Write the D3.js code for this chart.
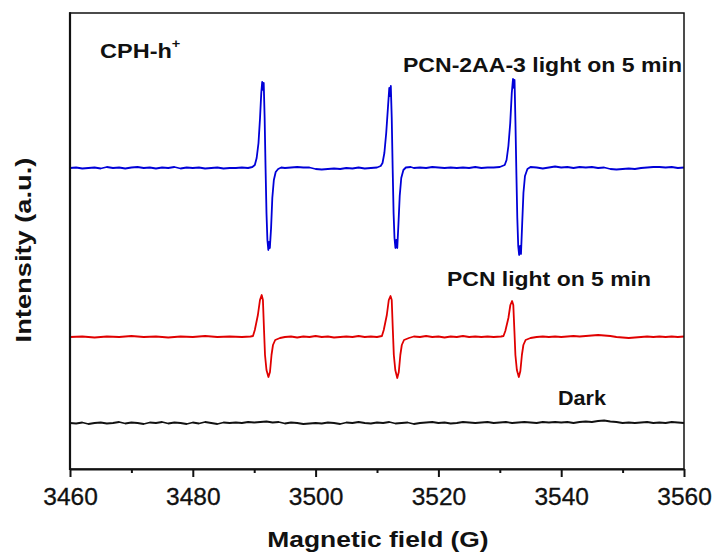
<!DOCTYPE html>
<html>
<head>
<meta charset="utf-8">
<script src="https://cdn.jsdelivr.net/npm/d3@7"></script>
<style>
  body { margin: 0; background: #fff; }
  svg { display: block; font-family: "Liberation Sans", Arial, sans-serif; }
</style>
</head>
<body>
<svg id="chart" width="712" height="554"></svg>
<script>
// x ticks
const majorTicks = [3460, 3480, 3500, 3520, 3540, 3560];
const minorTicks = [3470, 3490, 3510, 3530, 3550];

// vertical offset of each trace (a.u.)
const traceNames = ["Dark", "PCN light on 5 min", "PCN-2AA-3 light on 5 min"];
const traceOffsets = [46, 132, 301];
const traceColors = ["#111111", "#e00000", "#0000d8"];

// [field (G), intensity relative to baseline (a.u.)]
const darkData = [
  [3460,0],[3461,-0.5],[3462,0.5],[3463,-1],[3464,0],[3465,0.5],[3466,-0.5],[3467,0],[3468,1],[3469,-0.5],
  [3470,0.5],[3471,0],[3472,-1],[3473,0.5],[3474,0],[3475,1],[3476,-0.5],[3477,0.5],[3478,0],[3479,-1],
  [3480,0.5],[3481,-0.5],[3482,1],[3483,0],[3484,-1],[3485,0.5],[3486,0],[3487,0.5],[3488,0],[3489,1],
  [3490,0.5],[3491,1],[3492,1.5],[3493,0.5],[3494,1],[3495,-0.5],[3496,0.5],[3497,0],[3498,-1],[3499,-0.5],
  [3500,0],[3501,-0.5],[3502,0.5],[3503,0],[3504,-1],[3505,0.5],[3506,0],[3507,1],[3508,0],[3509,-0.5],
  [3510,0.5],[3511,0],[3512,1],[3513,-0.5],[3514,0],[3515,0.5],[3516,-1],[3517,0],[3518,0.5],[3519,1],
  [3520,0],[3521,0.5],[3522,-0.5],[3523,0],[3524,1],[3525,0.5],[3526,0],[3527,0.5],[3528,1],[3529,0],
  [3530,0.5],[3531,1],[3532,0],[3533,0.5],[3534,1],[3535,0.5],[3536,0],[3537,1],[3538,0.5],[3539,1],
  [3540,0.5],[3541,1],[3542,0],[3543,1],[3544,1.5],[3545,1],[3546,2],[3547,2.5],[3548,1.5],[3549,1],
  [3550,0],[3551,0.5],[3552,0],[3553,0.5],[3554,1],[3555,0],[3556,0.5],[3557,0],[3558,1],[3559,0.5],[3560,0]
];

const pcnData = [
  [3460,0],[3462,0.5],[3464,-0.5],[3466,0.5],[3468,0],[3470,1],[3472,0],[3474,0.5],[3476,-0.5],[3478,0.5],
  [3480,0],[3482,1],[3484,0],[3486,0.5],[3488,0],[3489.4,0.5],[3489.8,1],[3490.1,7],[3490.6,22],[3490.94,37],
  [3491.22,42],[3491.42,37],[3491.6,7],[3491.76,-18],[3492.0,-33],[3492.32,-40],[3492.57,-35],[3492.82,-18],
  [3493.06,-8],[3493.42,-3],[3494.2,-1],[3495,0],[3496,0.5],[3497,-0.5],[3498,0.5],[3499,0],[3500,1],[3501,0],
  [3502,0.5],[3503,-0.5],[3504,0],[3505,0.5],[3506,0],[3507,1],[3508,0],[3509,0.5],[3510,0],[3510.8,1],
  [3511.1,7],[3511.6,22],[3511.92,37],[3512.2,41],[3512.4,37],[3512.58,7],[3512.74,-18],[3512.98,-33],
  [3513.3,-41],[3513.55,-35],[3513.8,-18],[3514.04,-8],[3514.4,-3],[3515.2,-1],[3516,0.5],[3517,0],[3518,1],
  [3519,0],[3520,0.5],[3521,-0.5],[3522,0.5],[3523,0],[3524,1],[3525,0],[3526,0.5],[3527,0],[3528,0.5],
  [3529,0],[3530.2,0.5],[3530.6,1],[3530.9,6],[3531.4,19],[3531.72,32],[3532.0,36],[3532.2,32],[3532.38,6],
  [3532.54,-18],[3532.78,-33],[3533.1,-40],[3533.35,-34],[3533.6,-18],[3533.84,-8],[3534.2,-3],[3535,-1],
  [3536,0],[3537,0.5],[3538,0],[3539,0.5],[3540,0],[3541,0.5],[3542,1],[3543,0.5],[3544,1],[3545,1.5],
  [3546,2],[3547,1.5],[3548,1],[3549,0],[3550,-0.5],[3551,-1],[3552,-0.5],[3553,0],[3554,0.5],[3555,0],
  [3556,0.5],[3557,0],[3558,0.5],[3559,0],[3560,0.5]
];

const pcn2aaData = [
  [3460,0],[3461,0.5],[3462,-0.5],[3463,0],[3464,0.5],[3465,-0.5],[3466,1],[3467,0],[3468,0.5],[3469,-0.5],
  [3470,0.5],[3471,1],[3472,0],[3473,0.5],[3474,-0.5],[3475,0.5],[3476,0],[3477,1],[3478,-0.5],[3479,0.5],
  [3480,0],[3481,0.5],[3482,-0.5],[3483,0],[3484,0.5],[3485,-0.5],[3486,0],[3487,0],[3488,0.5],[3489,0],
  [3489.7,1],[3490.1,3],[3490.4,10],[3490.7,25],[3490.95,50],[3491.15,75],[3491.3,86],[3491.45,78],
  [3491.55,85],[3491.7,50],[3491.85,0],[3492.0,-45],[3492.15,-72],[3492.3,-82],[3492.42,-74],[3492.55,-80],
  [3492.75,-60],[3492.95,-30],[3493.2,-12],[3493.5,-4],[3493.9,-1],[3494.4,0.5],[3495,0],[3496,0.5],[3497,1],
  [3498,0.5],[3499,0.5],[3500,-1],[3501,-1.5],[3502,-1],[3503,-0.5],[3504,-1],[3505,0],[3506,-0.5],[3507,0.5],
  [3508,-0.5],[3509,0],[3510,0.5],[3510.6,2],[3510.9,5],[3511.2,15],[3511.5,35],[3511.8,62],[3512.0,80],
  [3512.15,72],[3512.25,82],[3512.4,50],[3512.55,0],[3512.7,-45],[3512.85,-70],[3513.0,-80],[3513.15,-72],
  [3513.3,-80],[3513.5,-55],[3513.7,-28],[3513.95,-10],[3514.3,-2],[3514.7,0.5],[3515.5,1],[3516,0],
  [3517,0.5],[3518,0],[3519,1],[3520,0.5],[3521,0],[3522,0.5],[3523,0],[3524,0.5],[3525,0],[3526,1],
  [3527,0],[3528,0.5],[3529,0.5],[3530,1],[3530.8,3],[3531.1,8],[3531.4,22],[3531.7,45],[3531.95,75],
  [3532.15,89],[3532.3,80],[3532.4,88],[3532.55,45],[3532.7,-5],[3532.85,-50],[3533.0,-78],[3533.15,-87],
  [3533.3,-78],[3533.45,-86],[3533.65,-55],[3533.85,-25],[3534.1,-8],[3534.5,-1],[3535,1],[3536,0.5],
  [3537,-0.5],[3538,0.5],[3539,1.5],[3540,0.5],[3541,1],[3542,0],[3543,1],[3544,0.5],[3545,1],[3546,0],
  [3547,0.5],[3548,-1],[3549,-1.5],[3550,-1],[3551,-0.5],[3552,-1],[3553,0],[3554,0.5],[3555,1],[3556,1],
  [3557,0.5],[3558,1],[3559,0],[3560,0.5]
];

const traces = [darkData, pcnData, pcn2aaData];

const svg = d3.select("#chart");
const plotLeft = 70, plotRight = 684, plotTop = 13, plotBottom = 469;

const x = d3.scaleLinear().domain([3460, 3560]).range([plotLeft, plotRight]);
const y = d3.scaleLinear().domain([0, 456]).range([plotBottom, plotTop]);

// traces
const line = d3.line();
traces.forEach((data, i) => {
    svg.append("path")
        .attr("d", line(data.map(d => [x(d[0]), y(d[1] + traceOffsets[i])])))
        .attr("fill", "none")
        .attr("stroke", traceColors[i])
        .attr("stroke-width", 1.8)
        .attr("stroke-linejoin", "round");
});

// frame
svg.append("rect")
    .attr("x", plotLeft).attr("y", plotTop)
    .attr("width", plotRight - plotLeft).attr("height", plotBottom - plotTop)
    .attr("fill", "none").attr("stroke", "#111").attr("stroke-width", 1.5);
svg.append("line").attr("x1", plotLeft).attr("x2", plotLeft).attr("y1", plotTop - 0.75).attr("y2", plotBottom + 1)
    .attr("stroke", "#111").attr("stroke-width", 2.2);

// x axis
const xAxis = svg.append("g")
    .attr("transform", `translate(0,${plotBottom})`)
    .call(d3.axisBottom(x).tickValues(majorTicks).tickSize(8).tickSizeOuter(0).tickPadding(11).tickFormat(d3.format("d")));
xAxis.select(".domain").attr("stroke", "#111").attr("stroke-width", 2.2);
xAxis.selectAll(".tick line").attr("stroke", "#111").attr("stroke-width", 2);
xAxis.selectAll(".tick text")
    .attr("fill", "#111")
    .attr("stroke", "#111").attr("stroke-width", 0.3)
    .style("font-size", "24.5px")
    .style("font-family", "'Liberation Sans', Arial, sans-serif");

const xMinor = svg.append("g")
    .attr("transform", `translate(0,${plotBottom})`)
    .call(d3.axisBottom(x).tickValues(minorTicks).tickSize(4).tickFormat(""));
xMinor.select(".domain").remove();
xMinor.selectAll(".tick line").attr("stroke", "#111").attr("stroke-width", 2);

// axis titles (the original lettering is stretched sideways)
svg.append("text")
    .attr("transform", "translate(378,547) scale(1.2,1)")
    .attr("text-anchor", "middle")
    .attr("font-size", 22).attr("font-weight", "bold").attr("fill", "#111")
    .text("Magnetic field (G)");

svg.append("text")
    .attr("transform", "translate(31,250) rotate(-90) scale(1.24,1)")
    .attr("text-anchor", "middle")
    .attr("font-size", 22).attr("font-weight", "bold").attr("fill", "#111")
    .text("Intensity (a.u.)");

// annotations
const title = svg.append("text")
    .attr("transform", "translate(100,58) scale(1.12,1)")
    .attr("font-size", 21).attr("font-weight", "bold").attr("fill", "#111");
title.append("tspan").text("CPH-h");
title.append("tspan").attr("font-size", 13).attr("dy", -10).text("+");

const labelPos = [[558, 405, 48], [447, 286, 204], [403, 72, 279]];
traceNames.forEach((name, i) => {
    svg.append("text")
        .attr("x", labelPos[i][0]).attr("y", labelPos[i][1])
        .attr("font-size", 21).attr("font-weight", "bold").attr("fill", "#111")
        .attr("textLength", labelPos[i][2]).attr("lengthAdjust", "spacingAndGlyphs")
        .text(name);
});
</script>
</body>
</html>
